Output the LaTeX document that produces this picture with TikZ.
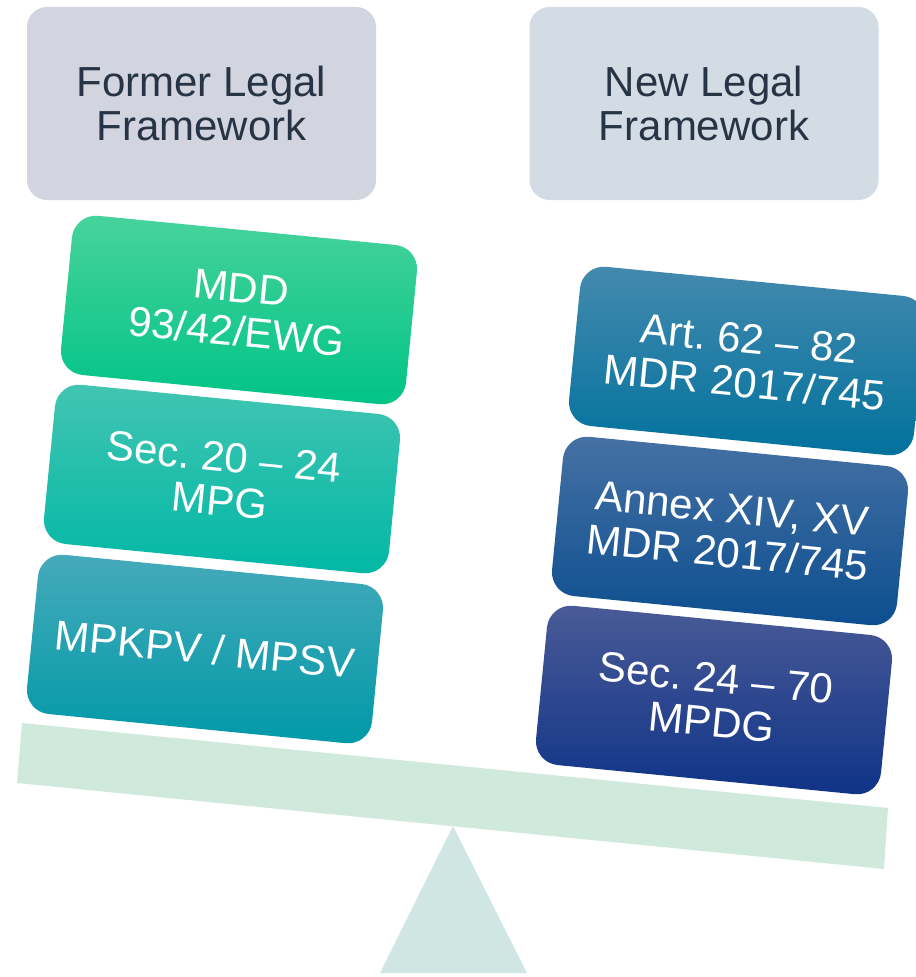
\documentclass[tikz,border=0pt]{standalone}
\usepackage{fontspec}
\setmainfont{Liberation Sans}
\frenchspacing
\definecolor{headtext}{HTML}{263445}
\definecolor{headL}{HTML}{D2D4DF}
\definecolor{headR}{HTML}{D3DCE4}
\definecolor{beamcol}{HTML}{CFEADD}
\definecolor{pivotcol}{HTML}{D0E6E3}
\definecolor{mddT}{HTML}{48D39C}\definecolor{mddB}{HTML}{00C386}
\definecolor{mpgT}{HTML}{42C5B2}\definecolor{mpgB}{HTML}{00B8A5}
\definecolor{mpkT}{HTML}{46AABA}\definecolor{mpkB}{HTML}{0099A8}
\definecolor{artT}{HTML}{4589AE}\definecolor{artB}{HTML}{00729D}
\definecolor{anxT}{HTML}{4671A4}\definecolor{anxB}{HTML}{0B4E8F}
\definecolor{secT}{HTML}{4A5B97}\definecolor{secB}{HTML}{0F3387}
\begin{document}
\begin{tikzpicture}[x=0.75pt,y=-0.75pt,
  header/.style={fill=#1, rounded corners=15pt, minimum width=261.75pt,
    minimum height=144.75pt, inner sep=0pt, align=center, text=headtext,
    font=\fontsize{31.5}{33}\selectfont},
  slab/.style 2 args={top color=#1, bottom color=#2, rounded corners=18pt,
    minimum width=260pt, minimum height=120pt, inner sep=0pt, align=center,
    text=white, rotate=-5.6, font=\fontsize{31.5}{33}\selectfont}]
\useasboundingbox (0,0) rectangle (916,977);
\clip (0,0) rectangle (916,977);

% headings
\node[header=headL] (former) at (201.5,103.5) {Former Legal\\Framework};
\node[header=headR] (new) at (704,103.5) {New Legal\\Framework};

% pivot and beam of the balance
\fill[pivotcol] (453,826) -- (527,973) -- (380,973) -- cycle;
\fill[beamcol] (22,723) -- (888,808) -- (884,869) -- (17,783) -- cycle;

% former framework stack
\node[slab={mddT}{mddB}] (mdd) at (239,310) {MDD\\93/42/EWG};
\node[slab={mpgT}{mpgB}] (mpg) at (222,479) {Sec. 20 -- 24\\MPG};
\node[slab={mpkT}{mpkB}] (mpkpv) at (205,649) {MPKPV / MPSV};

% new framework stack
\node[slab={artT}{artB}] (art) at (747,361) {Art. 62 -- 82\\MDR 2017/745};
\node[slab={anxT}{anxB}] (annex) at (730,531) {Annex XIV, XV\\MDR 2017/745};
\node[slab={secT}{secB}] (mpdg) at (714,700) {Sec. 24 -- 70\\MPDG};
\end{tikzpicture}
\end{document}
